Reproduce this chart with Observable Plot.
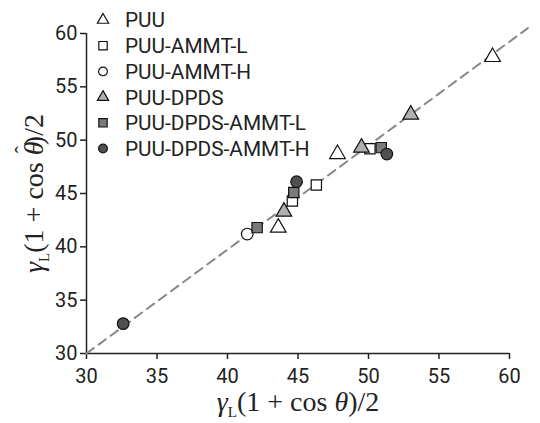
<!DOCTYPE html>
<html>
<head>
<meta charset="utf-8">
<script src="https://cdn.jsdelivr.net/npm/d3@7"></script>
<script src="https://cdn.jsdelivr.net/npm/@observablehq/plot@0.6"></script>
<style>
  html, body { margin: 0; padding: 0; background: #fff; }
  #chart { position: relative; width: 540px; height: 423px; }
</style>
</head>
<body>
<div id="chart"></div>
<script>
// Sample series: x = γL(1+cos θ)/2, y = γL(1+cos θ̂)/2
const seriesNames = ["PUU", "PUU-AMMT-L", "PUU-AMMT-H", "PUU-DPDS", "PUU-DPDS-AMMT-L", "PUU-DPDS-AMMT-H"];
const seriesSymbols = ["triangle", "square", "circle", "triangle", "square", "circle"];
const seriesFills = ["#ffffff", "#ffffff", "#ffffff", "#b0b0b0", "#7a7a7a", "#505050"];

const puu = [[58.8, 57.8], [47.8, 48.7], [43.6, 41.8]];
const puuAmmtL = [[50.1, 49.2], [44.6, 44.3], [46.3, 45.8]];
const puuAmmtH = [[41.4, 41.2]];
const puuDpds = [[53.0, 52.4], [49.5, 49.3], [44.0, 43.3]];
const puuDpdsAmmtL = [[50.9, 49.3], [42.1, 41.8], [44.7, 45.1]];
const puuDpdsAmmtH = [[51.3, 48.7], [44.9, 46.1], [32.6, 32.8]];

const tickValues = [30, 35, 40, 45, 50, 55, 60];
// dashed reference line through the data
const refLine = [[30, 30], [61.3, 60.5]];

const groups = [puu, puuAmmtL, puuAmmtH, puuDpds, puuDpdsAmmtL, puuDpdsAmmtH];
const rows = groups.flatMap((pts, i) => pts.map(([x, y]) => ({x, y, series: seriesNames[i]})));

const XLABEL = "γL(1 + cos θ)/2";
const YLABEL = "γL(1 + cos θ̂)/2";
const SANS = "Roboto, 'Liberation Sans', sans-serif";

const chart = Plot.plot({
  width: 540,
  height: 423,
  marginLeft: 86,
  marginRight: 31,
  marginTop: 33,
  marginBottom: 70,
  style: {fontFamily: SANS, fontSize: "20px", color: "#222", background: "#fff"},
  x: {domain: [30, 60]},
  y: {domain: [30, 60]},
  symbol: {domain: seriesNames, range: seriesSymbols},
  color: {domain: seriesNames, range: seriesFills},
  marks: [
    Plot.axisX({ticks: tickValues, tickSize: 6, tickPadding: 9, label: null, stroke: "#222", strokeWidth: 1.5}),
    Plot.axisY({ticks: tickValues, tickSize: 6, tickPadding: 3, label: null, stroke: "#222", strokeWidth: 1.5}),
    Plot.ruleX([30], {stroke: "#222", strokeWidth: 1.5}),
    Plot.ruleY([30], {stroke: "#222", strokeWidth: 1.5}),
    Plot.line(refLine, {x: d => d[0], y: d => d[1], stroke: "#888", strokeWidth: 2, strokeDasharray: "9,6"}),
    Plot.dot(rows, {x: "x", y: "y", symbol: "series", fill: "series", stroke: "#111", strokeWidth: 1.2, r: 5.8}),
    Plot.text([XLABEL], {frameAnchor: "bottom", textAnchor: "middle", dy: 57, fontSize: 28, fill: "#222"}),
    Plot.text([YLABEL], {frameAnchor: "left", textAnchor: "middle", dx: -52, rotate: -90, fontSize: 28, fill: "#222"})
  ]
});

document.getElementById("chart").appendChild(chart);

// Typeset the two axis labels with serif math styling
const svg = d3.select(chart);
function mathLabel(sel, hat) {
  sel.text(null)
    .attr("font-family", "'Liberation Serif', 'DejaVu Serif', serif")
    .attr("text-anchor", "middle");
  sel.append("tspan").attr("font-style", "italic").text("γ");
  sel.append("tspan").attr("font-size", "15px").attr("dy", "6").text("L");
  sel.append("tspan").attr("dy", "-6").text("(1 + cos ");
  sel.append("tspan").attr("font-style", "italic").text("θ");
  if (hat) {
    sel.append("tspan").attr("dx", "-12").attr("dy", "-13").attr("font-size", "22px").text("ˆ");
    sel.append("tspan").attr("dx", "1").attr("dy", "13").text(")/2");
  } else {
    sel.append("tspan").text(")/2");
  }
}
svg.selectAll("text").filter(function() { return this.textContent === XLABEL; }).each(function() { mathLabel(d3.select(this), false); });
svg.selectAll("text").filter(function() { return this.textContent === YLABEL; }).each(function() { mathLabel(d3.select(this), true); });

// Legend in the upper-left corner of the plot area
const legend = svg.append("g")
  .attr("font-family", SANS).attr("font-size", 20.8).attr("fill", "#222").attr("text-anchor", "start");
const symbolType = {triangle: d3.symbolTriangle, square: d3.symbolSquare, circle: d3.symbolCircle};
const symbolArea = {triangle: 55, square: 70, circle: 60};
seriesNames.forEach((name, i) => {
  const y = 20 + i * 25.7;
  legend.append("path")
    .attr("transform", `translate(103,${y})`)
    .attr("d", d3.symbol(symbolType[seriesSymbols[i]], symbolArea[seriesSymbols[i]])())
    .attr("fill", seriesFills[i]).attr("stroke", "#111").attr("stroke-width", 1.2);
  legend.append("text").attr("x", 125).attr("y", y).attr("dy", "0.36em").text(name);
});
</script>
</body>
</html>
